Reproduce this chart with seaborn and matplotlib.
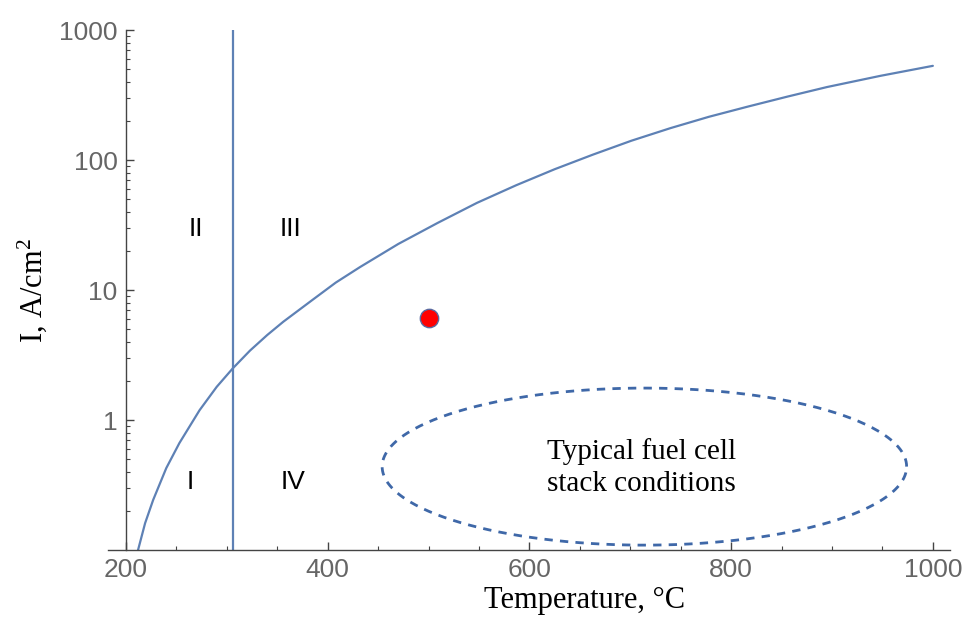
import numpy as np
import pandas as pd
import matplotlib
matplotlib.use("Agg")
import matplotlib.pyplot as plt
from matplotlib.ticker import LogLocator, MultipleLocator, FixedLocator, NullFormatter
import seaborn as sns

# ---- data ----
temperature = [212, 219, 227, 240, 253, 273, 290, 306, 323, 340, 356, 385, 408, 432,
               470, 509, 548, 587, 625, 663, 701, 740, 778, 817, 856, 895, 948, 1000]
current = [0.1, 0.161, 0.243, 0.427, 0.665, 1.19, 1.80, 2.5, 3.42, 4.5, 5.7, 8.4, 11.4, 15,
           22.6, 32.8, 46.8, 64, 84.9, 110, 140.6, 176, 215, 258, 307.6, 364, 444, 530]
boundary_temp = 306
point_temp = [500]
point_current = [6.1]
region_labels = ["II", "III", "I", "IV"]
region_temp = [269, 363, 264, 366]
region_current = [29.5, 29.5, 0.333, 0.333]
ellipse_temp_center, ellipse_temp_half = 714, 260
ellipse_cur_low, ellipse_cur_high = 0.109, 1.76
stack_text = "Typical fuel cell\nstack conditions"
stack_text_pos = (711, 0.43)
x_ticks = [200, 400, 600, 800, 1000]
y_ticks = [1, 10, 100, 1000]
y_ticklabels = ["1", "10", "100", "1000"]

sns.set_style("white")
plt.rcParams["font.family"] = ["Liberation Sans", "DejaVu Sans"]
plt.rcParams["mathtext.fontset"] = "custom"
plt.rcParams["mathtext.rm"] = "Liberation Serif"
plt.rcParams["mathtext.it"] = "Liberation Serif:italic"

line_color = "#5E81B5"
fig = plt.figure(figsize=(9.67, 6.24), dpi=100)
ax = fig.add_axes([108 / 967, 74 / 624, 842 / 967, 520 / 624])

df = pd.DataFrame({"T": temperature, "I": current})
sns.lineplot(data=df, x="T", y="I", ax=ax, sort=False, estimator=None,
             color=line_color, linewidth=1.6)
ax.axvline(boundary_temp, color=line_color, linewidth=1.6)

pts = pd.DataFrame({"T": point_temp, "I": point_current})
sns.scatterplot(data=pts, x="T", y="I", ax=ax, s=175, color="#ff0000",
                edgecolor="#5a6aa0", linewidth=1.0, zorder=5)

# dashed ellipse (elliptical in display space on log y)
t = np.linspace(0, 2 * np.pi, 400)
lc = (np.log10(ellipse_cur_low) + np.log10(ellipse_cur_high)) / 2
lh = (np.log10(ellipse_cur_high) - np.log10(ellipse_cur_low)) / 2
ax.plot(ellipse_temp_center + ellipse_temp_half * np.cos(t),
        10 ** (lc + lh * np.sin(t)), color="#3f68a8", linewidth=2.0,
        dashes=(3.0, 2.6))

ax.text(stack_text_pos[0], stack_text_pos[1], stack_text, ha="center", va="center",
        fontsize=21, family="Liberation Serif", color="black", linespacing=1.3)

for lab, tx, cy in zip(region_labels, region_temp, region_current):
    ax.text(tx, cy, lab, ha="center", va="center", fontsize=19,
            family="Liberation Sans", color="black")

ax.set_yscale("log")
ax.set_ylim(0.1, 1000)
ax.set_xlim(182.2, 1017)

for s in ["top", "right"]:
    ax.spines[s].set_visible(False)
ax.spines["left"].set_position(("data", 200))
for s in ["left", "bottom"]:
    ax.spines[s].set_color("#444444")
    ax.spines[s].set_linewidth(1.0)

ax.xaxis.set_major_locator(FixedLocator(x_ticks))
ax.xaxis.set_minor_locator(MultipleLocator(50))
ax.set_xticklabels([str(v) for v in x_ticks])
ax.yaxis.set_major_locator(FixedLocator(y_ticks))
ax.set_yticklabels(y_ticklabels)
ax.yaxis.set_minor_locator(LogLocator(base=10, subs=np.arange(2, 10)))
ax.yaxis.set_minor_formatter(NullFormatter())

ax.tick_params(which="major", direction="in", length=6, width=1.0, color="#444444",
               labelsize=19, labelcolor="#666666", pad=6)
ax.tick_params(which="minor", direction="in", length=3, width=0.8, color="#444444")
ax.tick_params(axis="both", which="both", bottom=True, left=True)

ax.set_xlabel("Temperature, °C", fontsize=22, family="Liberation Serif", color="black")
ax.xaxis.set_label_coords((585 - 108) / 842, -0.07)
ax.set_ylabel("I, A/cm$^{2}$", fontsize=22, family="Liberation Serif", color="black")
ax.yaxis.set_label_coords(-0.07, 0.5)

fig.savefig("out.png", dpi=100)
